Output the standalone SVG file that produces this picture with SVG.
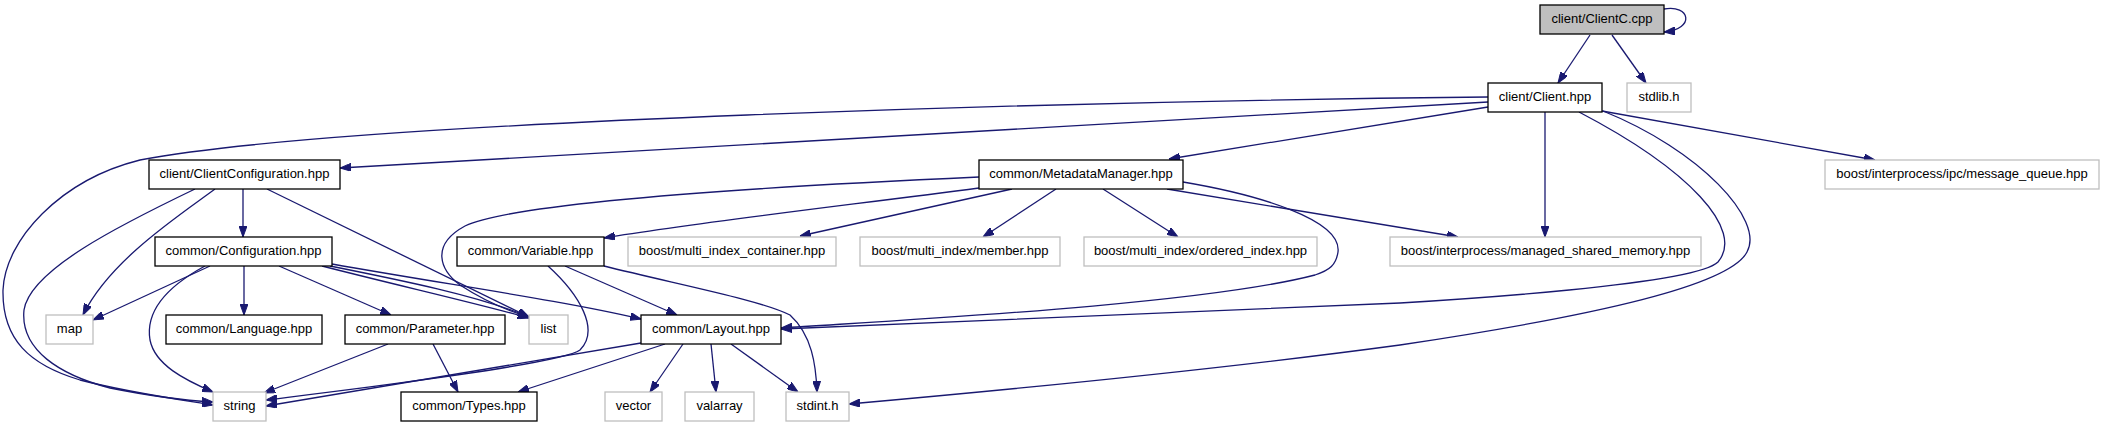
<svg xmlns="http://www.w3.org/2000/svg" width="2103" height="427" viewBox="0 0 2103 427">
<style>
.n rect{fill:#fff;stroke:#000;stroke-width:1.3}
.g rect{fill:#fff;stroke:#bfbfbf;stroke-width:1.3}
.r rect{fill:#bfbfbf;stroke:#000;stroke-width:1.3}
text{font-family:"Liberation Sans",Arial,sans-serif;font-size:13px;fill:#000;text-anchor:middle}
.e path{fill:none;stroke:#191970;stroke-width:1.3;marker-end:url(#ah)}
</style>
<defs>
<marker id="ah" markerUnits="userSpaceOnUse" markerWidth="11" markerHeight="8" refX="11" refY="4" orient="auto">
<path d="M0,0 L11,4 L0,8 z" fill="#191970" stroke="#191970" stroke-width="1"/>
</marker>
</defs>
<rect width="2103" height="427" fill="#fff"/>
<g class="e" id="edges">
<path d="M1664,9 C1690,4 1696,29 1664,32"/>
<path d="M1590,35 L1558,83"/>
<path d="M1612,35 L1646,83"/>
<path d="M1488,97 C1100,101 350,120 140,160 C60,180 5,240 3,290 C2,340 30,365 80,380 C130,393 190,401 213,405"/>
<path d="M1488,102 L340,168"/>
<path d="M1488,107 L1169,159"/>
<path d="M1545,112 L1545,237"/>
<path d="M1602,111 L1875,160"/>
<path d="M1579,112 C1690,170 1745,230 1718,262 C1695,285 1450,300 1400,303 L781,329"/>
<path d="M1603,111 C1700,150 1765,220 1747,252 C1730,285 1600,315 1400,345 C1200,372 950,395 849,404"/>
<path d="M243,189 L243,237"/>
<path d="M215,189 C180,215 110,260 83,315"/>
<path d="M195,189 C120,225 30,270 24,310 C20,350 60,375 110,388 C160,398 195,401 213,402"/>
<path d="M267,189 L529,317"/>
<path d="M210,266 L93,320"/>
<path d="M244,266 L244,315"/>
<path d="M279,266 L391,315"/>
<path d="M330,266 C400,280 480,296 529,317"/>
<path d="M322,266 C400,286 480,304 529,318"/>
<path d="M332,264 C450,285 560,300 641,319"/>
<path d="M205,266 C170,285 145,310 150,340 C155,365 185,380 213,392"/>
<path d="M979,177 C800,185 520,200 465,226 C430,245 440,270 460,285 C480,298 505,310 529,317"/>
<path d="M979,188 C850,205 700,222 604,238"/>
<path d="M1012,189 L800,236"/>
<path d="M1056,189 L983,237"/>
<path d="M1103,189 L1178,237"/>
<path d="M1167,189 L1458,237"/>
<path d="M1183,182 C1260,195 1342,220 1338,252 C1336,265 1330,270 1315,275 C1200,305 900,320 781,328"/>
<path d="M565,266 L677,315"/>
<path d="M548,266 C580,295 600,330 580,350 C560,365 330,392 266,400"/>
<path d="M604,266 C680,285 760,300 790,315 C812,335 816,365 817,392"/>
<path d="M388,344 L264,393"/>
<path d="M433,344 L458,392"/>
<path d="M641,343 L266,406"/>
<path d="M665,344 L518,392"/>
<path d="M683,344 L650,392"/>
<path d="M711,344 L716,392"/>
<path d="M731,344 L798,392"/>
</g>
<g id="n_clientc" class="r"><rect x="1540" y="5" width="124" height="29"/><text x="1602" y="23">client/ClientC.cpp</text></g>
<g id="n_client" class="n"><rect x="1488" y="83" width="114" height="29"/><text x="1545" y="101">client/Client.hpp</text></g>
<g id="n_stdlib" class="g"><rect x="1627" y="83" width="64" height="29"/><text x="1659" y="101">stdlib.h</text></g>
<g id="n_clientconf" class="n"><rect x="149" y="160" width="191" height="29"/><text x="244.5" y="178">client/ClientConfiguration.hpp</text></g>
<g id="n_metadata" class="n"><rect x="979" y="160" width="204" height="29"/><text x="1081" y="178">common/MetadataManager.hpp</text></g>
<g id="n_msgq" class="g"><rect x="1825" y="160" width="274" height="29"/><text x="1962" y="178">boost/interprocess/ipc/message_queue.hpp</text></g>
<g id="n_config" class="n"><rect x="155" y="237" width="177" height="29"/><text x="243.5" y="255">common/Configuration.hpp</text></g>
<g id="n_variable" class="n"><rect x="457" y="237" width="147" height="29"/><text x="530.5" y="255">common/Variable.hpp</text></g>
<g id="n_mic" class="g"><rect x="628" y="237" width="208" height="29"/><text x="732" y="255">boost/multi_index_container.hpp</text></g>
<g id="n_member" class="g"><rect x="860" y="237" width="200" height="29"/><text x="960" y="255">boost/multi_index/member.hpp</text></g>
<g id="n_ordered" class="g"><rect x="1084" y="237" width="233" height="29"/><text x="1200.5" y="255">boost/multi_index/ordered_index.hpp</text></g>
<g id="n_msm" class="g"><rect x="1390" y="237" width="311" height="29"/><text x="1545.5" y="255">boost/interprocess/managed_shared_memory.hpp</text></g>
<g id="n_map" class="g"><rect x="46" y="315" width="47" height="29"/><text x="69.5" y="333">map</text></g>
<g id="n_language" class="n"><rect x="166" y="315" width="156" height="29"/><text x="244" y="333">common/Language.hpp</text></g>
<g id="n_parameter" class="n"><rect x="345" y="315" width="160" height="29"/><text x="425" y="333">common/Parameter.hpp</text></g>
<g id="n_list" class="g"><rect x="529" y="315" width="39" height="29"/><text x="548.5" y="333">list</text></g>
<g id="n_layout" class="n"><rect x="641" y="315" width="140" height="29"/><text x="711" y="333">common/Layout.hpp</text></g>
<g id="n_string" class="g"><rect x="213" y="392" width="53" height="29"/><text x="239.5" y="410">string</text></g>
<g id="n_types" class="n"><rect x="401" y="392" width="136" height="29"/><text x="469" y="410">common/Types.hpp</text></g>
<g id="n_vector" class="g"><rect x="605" y="392" width="57" height="29"/><text x="633.5" y="410">vector</text></g>
<g id="n_valarray" class="g"><rect x="685" y="392" width="69" height="29"/><text x="719.5" y="410">valarray</text></g>
<g id="n_stdint" class="g"><rect x="786" y="392" width="63" height="29"/><text x="817.5" y="410">stdint.h</text></g>
</svg>
